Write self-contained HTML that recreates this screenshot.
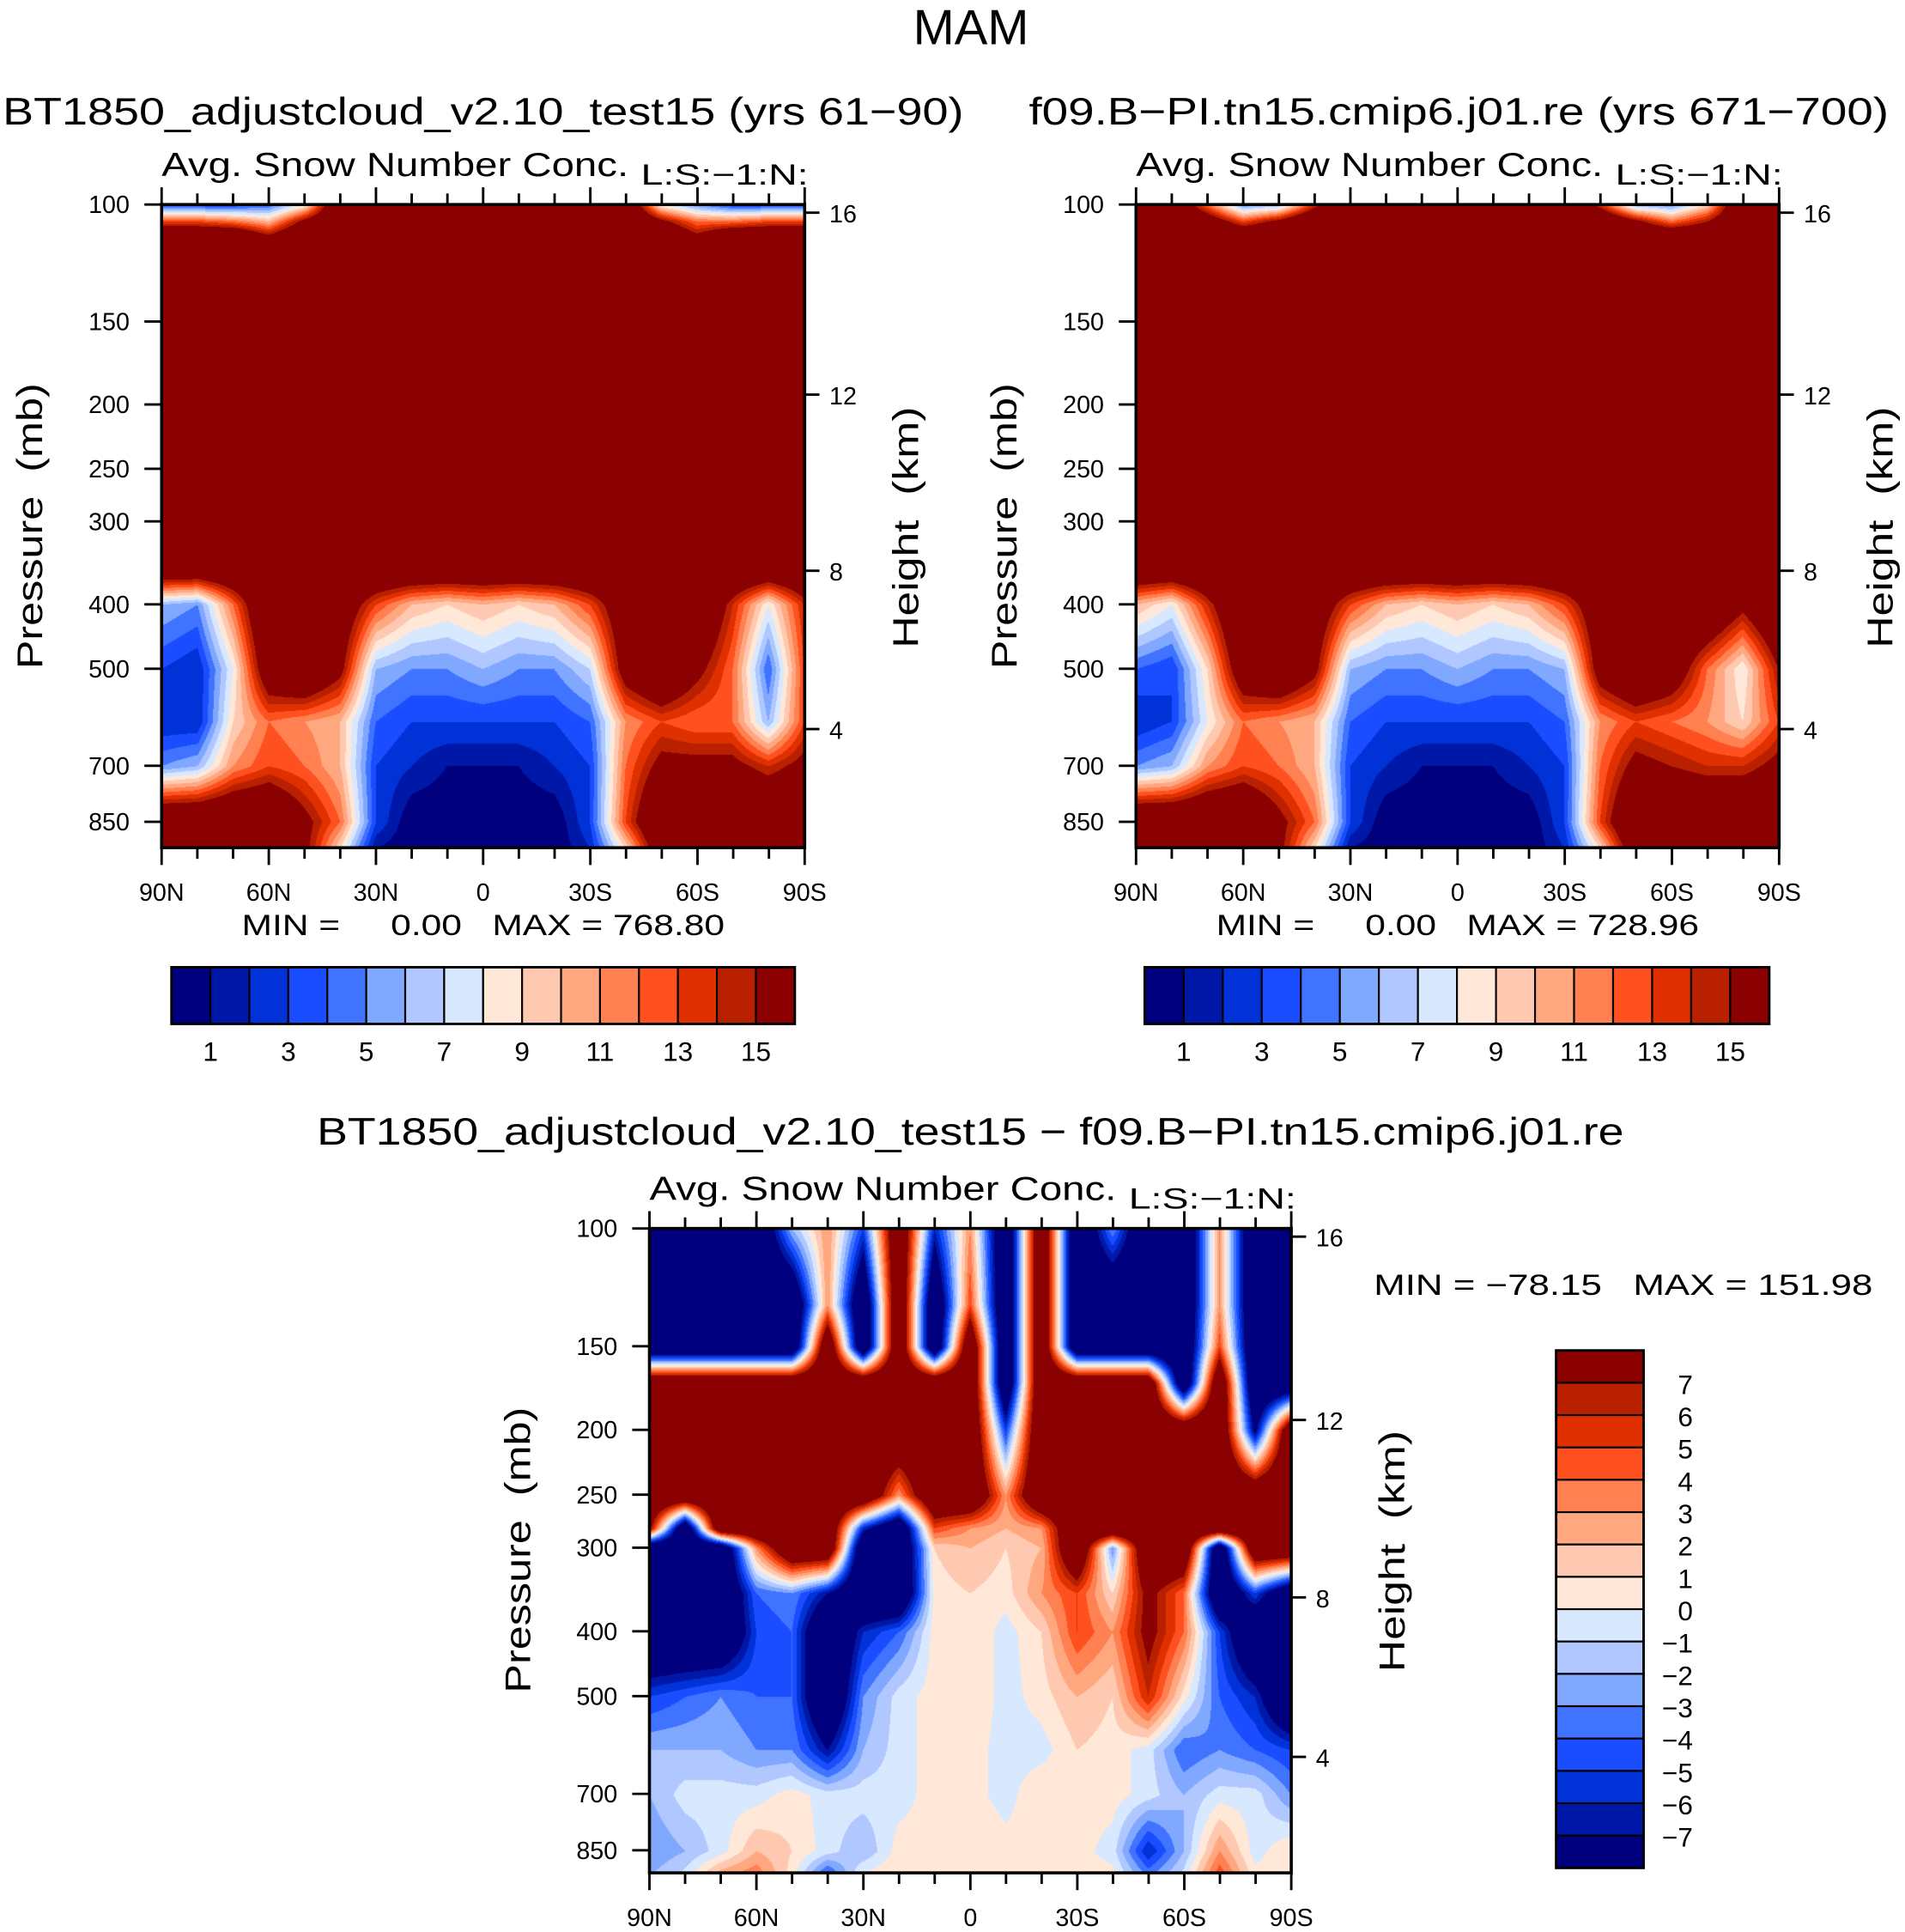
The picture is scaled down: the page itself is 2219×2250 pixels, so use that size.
<!DOCTYPE html>
<html><head><meta charset="utf-8"><style>
html,body{margin:0;padding:0;background:#fff;}
#wrap{position:relative;width:2219px;height:2250px;overflow:hidden;}
canvas{position:absolute;}
svg{position:absolute;left:0;top:0;}
text{font-family:"Liberation Sans",sans-serif;fill:#000;white-space:pre;}
</style></head><body>
<div id="wrap">
<svg id="svg" width="2219" height="2250" viewBox="0 0 1546 1568">
<text x="788" y="36" font-size="40" text-anchor="middle" textLength="94" lengthAdjust="spacingAndGlyphs">MAM</text>
<text x="2" y="101" font-size="31" textLength="780" lengthAdjust="spacingAndGlyphs">BT1850_adjustcloud_v2.10_test15 (yrs 61−90)</text>
<text x="835" y="101" font-size="31" textLength="698" lengthAdjust="spacingAndGlyphs">f09.B−PI.tn15.cmip6.j01.re (yrs 671−700)</text>
<text x="257" y="929" font-size="31" textLength="1061" lengthAdjust="spacingAndGlyphs">BT1850_adjustcloud_v2.10_test15 − f09.B−PI.tn15.cmip6.j01.re</text>
</svg>
</div>
<script>
var S = 2219/1546;
var lats = [90,80,70,60,50,40,30,20,10,0,-10,-20,-30,-40,-50,-60,-70,-80,-90];
var palette = ["#00007f","#0018a8","#0032d8","#1a4dff","#4073ff","#80a8ff","#b0c8ff","#d8e8ff","#ffe8d8","#ffc8b0","#ffa880","#ff8050","#ff5020","#e03000","#b82000","#8b0000"];
var boundsTop = [1,2,3,4,5,6,7,8,9,10,11,12,13,14,15];
var boundsDiff = [-7,-6,-5,-4,-3,-2,-1,0,1,2,3,4,5,6,7];
var topLabels = [1,3,5,7,9,11,13,15];
var diffLabels = [7,6,5,4,3,2,1,0,-1,-2,-3,-4,-5,-6,-7];
var pressTicks = [100,150,200,250,300,400,500,700,850];
var heightTicks = [16,12,8,4];
var latTicks = ["90N","60N","30N","0","30S","60S","90S"];

var levelsTop = [100,106,112,350,400,500,600,700,850,930];
var fieldLeft = [
 [3,3,3,4,8,20,20,20,20,20,20,20,20,20,8,5,3,3,3],
 [13,13,12,10,16,20,20,20,20,20,20,20,20,20,16,12,12,13,13],
 [20,20,20,16,20,20,20,20,20,20,20,20,20,20,20,16,20,20,20],
 [20,20,20,20,20,20,20,20,20,20,20,20,20,20,20,20,20,20,20],
 [6,5,12,20,20,18,13,10,9,10,9,10,13,18,20,20,14,8,14],
 [3,2,8,18,20,16,6,5,5,6,5,5,7,17,20,16,12,4,13],
 [2,2,9,12,11,10,4,3,3,3,3,3,4,11,13,12,12,6,13],
 [5,6,11,13,12,10,3,2,1,1,1,2,3,12,16,16,16,14,16],
 [20,20,20,20,16,12,3,0,0,0,0,0,3,13,20,20,20,20,20],
 [20,20,20,20,16,9,1,0,0,0,0,0,2,9,18,20,20,20,20]];
var fieldRight = [
 [20,20,12,5,6,14,20,20,20,20,20,20,20,14,6,5,9,20,20],
 [20,20,18,13,16,20,20,20,20,20,20,20,20,20,16,12,15,20,20],
 [20,20,20,20,20,20,20,20,20,20,20,20,20,20,20,20,20,20,20],
 [20,20,20,20,20,20,20,20,20,20,20,20,20,20,20,20,20,20,20],
 [10,8,14,20,20,18,13,10,9,10,9,10,13,18,20,20,20,16,20],
 [4,3,9,18,20,16,6,5,5,6,5,5,6,17,20,18,12,8,15],
 [2,3,8,12,11,10,4,3,3,3,3,3,4,11,13,12,11,9,13],
 [5,6,11,13,12,10,3,2,1,1,1,2,3,12,16,15,14,14,16],
 [20,20,20,20,16,12,3,0,0,0,0,0,3,13,20,20,20,20,20],
 [20,20,20,20,16,9,1,0,0,0,0,0,2,9,18,20,20,20,20]];
var levelsDiff = [100,130,150,170,200,250,280,300,350,400,500,600,700,850,930];
var fieldDiff = [
 [-12,-12,-12,-12,-2,3,-5,12,-6,3,-12,12,-12,-3,-12,-12,3,-12,-12],
 [-12,-12,-12,-12,-12,3,-12,12,-12,5,-12,12,-12,-12,-12,-12,3,-12,-12],
 [-12,-12,-12,-12,-12,12,-12,12,-12,12,-12,12,-12,-12,-12,-12,5,-12,-12],
 [12,12,12,12,12,12,12,12,12,12,-12,12,12,12,12,-12,12,-12,-12],
 [12,12,12,12,12,12,12,12,12,12,-5,12,12,12,12,12,12,-8,12],
 [12,12,12,12,12,12,12,3,12,12,3,12,12,12,12,12,12,12,12],
 [8,-12,12,12,12,12,-6,-12,5,3,2,3,12,12,12,12,12,12,12],
 [-12,-12,-12,3,12,12,-12,-12,1,2,1,2,12,-3,12,12,-12,12,12],
 [-12,-12,-12,-4,-3,-7,-12,-12,0.5,1,0.5,3,5,1,8,4,-12,-5,-12],
 [-12,-12,-12,-5,-4,-12,-6,-4,0.5,1,-0.5,1,5,3,8,4,-5,-12,-12],
 [-5,-4,-3,-4,-4,-12,-3,-0.5,0.5,1,-0.5,0.5,2,1,6,0.5,-4,-6,-12],
 [-2,-2,-2,-3,-3,-7,-2,-0.5,0.5,0.5,-0.5,-0.5,1,0.5,-0.5,-4,-3,-4,-5],
 [-2,-0.5,-0.5,-0.5,0.5,-0.5,-0.5,-0.5,0.5,0.5,-0.5,1,0.5,0.5,-0.5,-2,-0.5,-0.5,-3],
 [-3,-2,-0.5,2,1,-0.5,-2,0.5,0.5,1,0.5,0.5,0.5,-0.5,-6,-2,3,-0.5,1],
 [-2,-0.5,3,4,0.5,-5,0.5,1,0.5,1,0.5,0.5,0.5,0.5,-3,-0.5,5,0.5,0.5]];

var NS = "http://www.w3.org/2000/svg";
var svg = document.getElementById("svg");
var wrap = document.getElementById("wrap");
function mk(tag, attrs, parent){
  var e = document.createElementNS(NS, tag);
  for (var k in attrs) e.setAttribute(k, attrs[k]);
  (parent||svg).appendChild(e);
  return e;
}
function txt(x,y,s,size,anchor,parent,tl){
  var a = {x:x,y:y,"font-size":size,"text-anchor":anchor||"start"};
  if (tl){a.textLength=tl;a.lengthAdjust="spacingAndGlyphs";}
  var e = mk("text",a,parent); e.textContent = s; return e;
}
function zToP(z){
  if (z<=11) return 1013.25*Math.pow(1-0.0065*z*1000/288.15,5.2559);
  return 226.32*Math.exp(-(z-11)*1000*9.80665/(287.05*216.65));
}
function colorIdx(v,b){var i=0;while(i<b.length&&v>=b[i])i++;return i;}
function hexRGB(h){return [parseInt(h.substr(1,2),16),parseInt(h.substr(3,2),16),parseInt(h.substr(5,2),16)];}
var palRGB = palette.map(hexRGB);

function panel(o){
  var g = mk("g",{});
  
  
  var x0=o.x, y0=o.y, w=o.w, h=o.h, k=o.k;
  function yOfP(p){return y0 + k*Math.log10(p/100);}
  function xOfLat(l){return x0 + (90-l)/180*w;}
  var cv = document.createElement("canvas");
  
  
  var W=Math.round(w*S), H=Math.round(h*S);
  cv.width=W; cv.height=H;
  cv.style.left=(x0*S)+"px"; cv.style.top=(y0*S)+"px";
  wrap.insertBefore(cv, svg);
  var ctx=cv.getContext("2d"), img=ctx.createImageData(W,H);
  var F=o.field, L=o.levels.map(function(p){return Math.log10(p);});
  for (var py=0;py<H;py++){
    var lp = 2 + (py/S)/k;
    var j=0; while(j<L.length-2 && lp>L[j+1]) j++;
    var ty=(lp-L[j])/(L[j+1]-L[j]); ty=Math.max(0,Math.min(1,ty));
    for (var px=0;px<W;px++){
      var t=(px/(W-1))*18, i=Math.min(17,Math.floor(t)), tx=t-i;
      var v=(1-ty)*((1-tx)*F[j][i]+tx*F[j][i+1])+ty*((1-tx)*F[j+1][i]+tx*F[j+1][i+1]);
      var c=palRGB[colorIdx(v,o.bounds)], q=(py*W+px)*4;
      img.data[q]=c[0];img.data[q+1]=c[1];img.data[q+2]=c[2];img.data[q+3]=255;
    }
  }
  ctx.putImageData(img,0,0);
  var fr = mk("rect",{x:x0,y:y0,width:w,height:h,fill:"none",stroke:"#000","stroke-width":2.5},g);
  
  
  for (var l=90;l>=-90;l-=10){
    var major = (l%30===0);
    var xx=xOfLat(l), len=major?14:9;
    mk("line",{x1:xx,y1:y0+h,x2:xx,y2:y0+h+len,stroke:"#000","stroke-width":2},g);
    mk("line",{x1:xx,y1:y0,x2:xx,y2:y0-len,stroke:"#000","stroke-width":2},g);
  }
  latTicks.forEach(function(s,i){
    var t = txt(x0+i*w/6, y0+h+43, s, 20, "middle", g);
    
    
  });
  pressTicks.forEach(function(p){
    var yy=yOfP(p);
    mk("line",{x1:x0-14,y1:yy,x2:x0,y2:yy,stroke:"#000","stroke-width":2},g);
    var t = txt(x0-26, yy+7, String(p), 20, "end", g);
    
    
  });
  heightTicks.forEach(function(z){
    var yy=yOfP(zToP(z));
    mk("line",{x1:x0+w,y1:yy,x2:x0+w+12,y2:yy,stroke:"#000","stroke-width":2},g);
    var t = txt(x0+w+20, yy+8, String(z), 20, "start", g);
    
    
  });
  var yt = txt(0,0,"Pressure  (mb)",29,"middle",g,232);
  yt.setAttribute("transform","translate("+(x0-97)+","+(y0+261)+") rotate(-90)");
  
  
  var ht = txt(0,0,"Height  (km)",29,"middle",g,196);
  ht.setAttribute("transform","translate("+(x0+w+92)+","+(y0+262)+") rotate(-90)");
  
  
  var st = txt(x0, y0-23, "Avg. Snow Number Conc.", 27, "start", g, 379);
  
  
  var ls = txt(x0+389, y0-16, "L:S:−1:N:", 24, "start", g, 136);
  
  
  var mm = txt(o.mmx, o.mmy, o.mm, 24, "start", g, o.mmw);
  
  
}

function hbar(x,y,w,h,name){
  var g = mk("g",{});
  
  
  var bw=w/16;
  palette.forEach(function(c,i){
    var r = mk("rect",{x:x+i*bw,y:y,width:bw,height:h,fill:c,stroke:"#000","stroke-width":1.5},g);
    
    
  });
  mk("rect",{x:x,y:y,width:w,height:h,fill:"none",stroke:"#000","stroke-width":2},g);
  topLabels.forEach(function(v){
    var b = boundsTop.indexOf(v)+1;
    var t = txt(x+b*bw, y+h+30, String(v), 22, "middle", g);
    
    
  });
}
function vbar(x,y,w,h,name){
  var g = mk("g",{});
  
  
  var bh=h/16;
  palette.slice().reverse().forEach(function(c,i){
    var r = mk("rect",{x:x,y:y+i*bh,width:w,height:bh,fill:c,stroke:"#000","stroke-width":1.5},g);
    
    
  });
  mk("rect",{x:x,y:y,width:w,height:h,fill:"none",stroke:"#000","stroke-width":2},g);
  diffLabels.forEach(function(v,i){
    var t = txt(x+w+40, y+(i+1)*bh+9, String(v).replace("-","−"), 22, "end", g);
    
    
  });
}

panel({name:"left-panel",x:131,y:166,w:522,h:522,k:539,levels:levelsTop,field:fieldLeft,bounds:boundsTop,
  mm:"MIN =     0.00   MAX = 768.80",mmx:196,mmy:759,mmw:392});
panel({name:"right-panel",x:922,y:166,w:522,h:522,k:539,levels:levelsTop,field:fieldRight,bounds:boundsTop,
  mm:"MIN =     0.00   MAX = 728.96",mmx:987,mmy:759,mmw:392});
panel({name:"diff-panel",x:527,y:997,w:521,h:523,k:543,levels:levelsDiff,field:fieldDiff,bounds:boundsDiff,
  mm:"MIN = −78.15   MAX = 151.98",mmx:1115,mmy:1051,mmw:405});
hbar(139,785,506,46,"left-colorbar");
hbar(929,785,507,46,"right-colorbar");
vbar(1263,1096,71,420,"diff-colorbar");
</script>
</body></html>
